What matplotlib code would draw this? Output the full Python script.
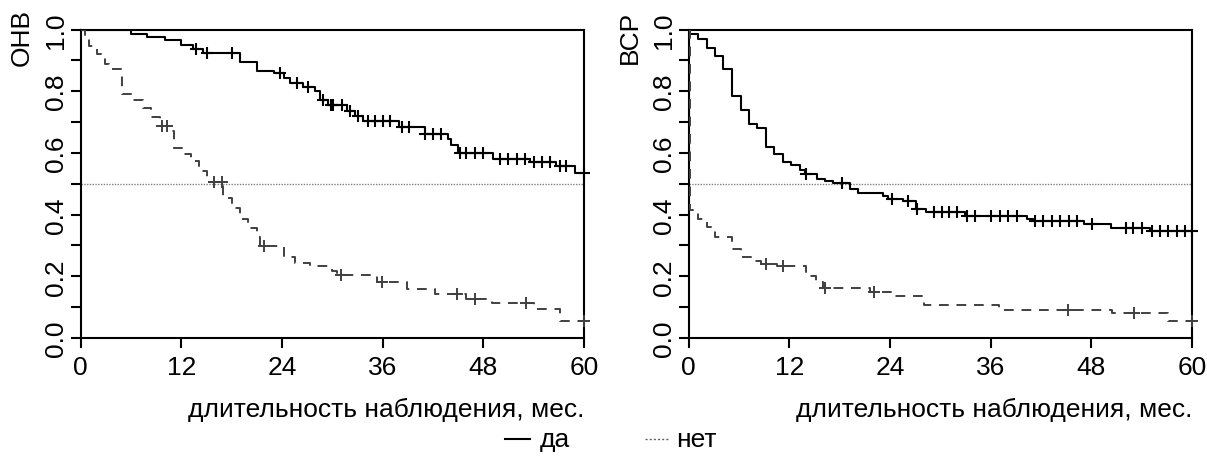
import numpy as np
import matplotlib
matplotlib.use("Agg")
import matplotlib.pyplot as plt

plt.rcParams['font.family'] = ['Liberation Sans', 'DejaVu Sans']

# ---------------- data ----------------
x_ticks = [0, 12, 24, 36, 48, 60]
y_ticks = [0.0, 0.2, 0.4, 0.6, 0.8, 1.0]
y_tick_labels = ["0.0", "0.2", "0.4", "0.6", "0.8", "1.0"]
x_label = "длительность наблюдения, мес."
panel_labels = ["ОНВ", "ВСР"]
legend_labels = ["да", "нет"]

# Panel 1 (ОНВ), group "да"
os_yes_t = [0, 5.96, 7.9, 10.05, 12.0, 13.4, 14.6, 19.0, 21.0, 23.0, 24.2, 25.0, 26.5, 27.9,
            28.5, 29.5, 31.7, 32.7, 33.7, 37.9, 41.0, 43.8, 44.2, 45.0, 49.2, 53.6, 56.7, 58.9]
os_yes_s = [1.0, 0.987, 0.976, 0.965, 0.951, 0.938, 0.925, 0.895, 0.865, 0.858, 0.844, 0.827, 0.812, 0.80,
            0.773, 0.754, 0.735, 0.72, 0.703, 0.683, 0.662, 0.646, 0.625, 0.599, 0.579, 0.569, 0.558, 0.536]
os_yes_c = [13.8, 15.0, 18.1, 23.8, 25.8, 27.1, 28.9, 29.9, 30.1, 31.1, 32.1, 33.1, 34.3, 35.1, 36.1, 36.9,
            38.3, 39.1, 41.05, 42.0, 43.0, 45.2, 46.0, 47.0, 48.0, 50.0, 51.0, 52.0, 53.0, 54.0, 55.0, 56.0,
            57.1, 57.9, 60.0]

# Panel 1 (ОНВ), group "нет"
os_no_t = [0, 0.5, 1.0, 1.9, 2.9, 3.4, 4.9, 6.0, 7.4, 8.4, 9.5, 10.5, 11.1, 12.1, 13.1, 14.1, 15.1,
           17.0, 18.0, 19.0, 20.0, 21.0, 21.4, 24.2, 25.6, 27.3, 30.0, 30.6, 35.3, 38.9, 42.3, 46.0,
           49.0, 54.0, 57.1]
os_no_s = [1.0, 0.97, 0.945, 0.92, 0.887, 0.873, 0.79, 0.771, 0.747, 0.715, 0.687, 0.671, 0.617, 0.595,
           0.574, 0.541, 0.506, 0.455, 0.423, 0.385, 0.358, 0.326, 0.299, 0.264, 0.243, 0.232, 0.218,
           0.205, 0.18, 0.159, 0.142, 0.128, 0.115, 0.094, 0.056]
os_no_c = [9.65, 10.3, 15.9, 16.8, 21.9, 31.0, 35.9, 44.9, 47.0, 53.1, 60.0]

# Panel 2 (ВСР), group "да"
rfs_yes_t = [0, 0.16, 1.15, 2.15, 3.14, 4.13, 5.2, 6.2, 7.2, 8.2, 9.2, 10.2, 11.2, 12.2, 13.3, 13.9,
             15.3, 16.3, 17.2, 19.2, 20.2, 23.2, 23.8, 25.5, 27.1, 28.3, 33.0, 40.3, 41.1, 47.1, 50.3, 55.0]
rfs_yes_s = [1.0, 0.987, 0.968, 0.941, 0.914, 0.873, 0.784, 0.739, 0.693, 0.680, 0.620, 0.595, 0.571,
             0.561, 0.545, 0.531, 0.517, 0.509, 0.502, 0.482, 0.469, 0.461, 0.45, 0.444, 0.417, 0.407,
             0.397, 0.385, 0.380, 0.369, 0.356, 0.347]
rfs_yes_c = [14.0, 18.3, 24.2, 26.2, 27.2, 29.2, 30.2, 31.0, 32.0, 33.2, 34.1, 36.1, 37.1, 38.1, 39.1,
             41.3, 42.3, 43.3, 44.3, 45.3, 46.3, 48.1, 52.2, 53.0, 54.0, 55.2, 56.2, 57.2, 58.2, 59.2, 60.0]

# Panel 2 (ВСР), group "нет"
rfs_no_t = [0, 0.1, 1.15, 2.15, 3.14, 5.2, 6.2, 7.6, 8.6, 10.5, 14.0, 15.2, 16.0, 21.6, 24.1, 28.0,
            37.0, 50.5, 57.1]
rfs_no_s = [1.0, 0.415, 0.385, 0.36, 0.326, 0.288, 0.264, 0.25, 0.239, 0.232, 0.202, 0.18, 0.161,
            0.148, 0.137, 0.108, 0.092, 0.081, 0.055]
rfs_no_c = [9.2, 11.3, 16.2, 22.1, 45.2, 53.1, 60.0]

panels = [
    (os_yes_t, os_yes_s, os_yes_c, os_no_t, os_no_s, os_no_c),
    (rfs_yes_t, rfs_yes_s, rfs_yes_c, rfs_no_t, rfs_no_s, rfs_no_c),
]

# ---------------- figure ----------------
W, H = 1207, 477
fig = plt.figure(figsize=(W / 100, H / 100), dpi=100)

FS = 19
DASH_COL = '#404040'
dash_style = (0, (5, 4))

ax_lefts = [80.7, 688.7]
ax_w = 503.2
ax_top, ax_bot = 30.5, 339.0


def surv_at(t, times, surv):
    idx = np.searchsorted(np.asarray(times), np.asarray(t), side='right') - 1
    return np.asarray(surv)[idx]


for i, (ty, sy, cy, tn, sn, cn) in enumerate(panels):
    left = ax_lefts[i]
    ax = fig.add_axes([left / W, (H - ax_bot) / H, ax_w / W, (ax_bot - ax_top) / H])
    ty_e = list(ty) + [60]
    sy_e = list(sy) + [sy[-1]]
    tn_e = list(tn) + [60]
    sn_e = list(sn) + [sn[-1]]
    ax.step(ty_e, sy_e, where='post', color='black', lw=1.5, zorder=3)
    ax.step(tn_e, sn_e, where='post', color=DASH_COL, lw=1.4, linestyle=dash_style, zorder=3)
    ax.plot(cy, surv_at(cy, ty, sy), linestyle='none', marker='+', ms=9, mew=1.5,
            color='black', zorder=4, clip_on=False)
    ax.plot(cn, surv_at(cn, tn, sn), linestyle='none', marker='+', ms=9, mew=1.4,
            color=DASH_COL, zorder=4, clip_on=False)
    ax.axhline(0.5, color='#808080', lw=1.0, linestyle=(0, (1, 1)), zorder=2)

    ax.set_xlim(0, 60)
    ax.set_ylim(0, 1)
    ax.set_xticks(x_ticks)
    ax.set_xticklabels([str(v) for v in x_ticks], fontsize=FS)
    ax.set_yticks(y_ticks)
    ax.set_yticklabels(y_tick_labels, fontsize=FS, rotation=90, va='center')
    ax.set_yticks(np.arange(0.1, 1.0, 0.2), minor=True)
    ax.tick_params(axis='both', which='both', direction='out', length=7, width=1.5,
                   color='black')
    ax.tick_params(axis='x', pad=5)
    ax.tick_params(axis='y', pad=2)
    for sp in ax.spines.values():
        sp.set_linewidth(1.5)
        sp.set_color('black')

    fig.text((left + ax_w) / W, 1 - 410 / H, x_label, fontsize=FS, ha='right', va='center')
    fig.text((left - 58.5) / W, 1 - 37 / H, panel_labels[i], fontsize=FS, rotation=90,
             ha='center', va='center')

# legend
ly = 1 - 440 / H
fig.add_artist(plt.Line2D([505 / W, 530 / W], [ly, ly], color='black', lw=1.5))
fig.text(540 / W, ly, legend_labels[0], fontsize=FS, ha='left', va='center')
fig.add_artist(plt.Line2D([645 / W, 668 / W], [ly, ly], color='#606060', lw=1.0,
                          linestyle=(0, (1.5, 1.5))))
fig.text(676 / W, ly, legend_labels[1], fontsize=FS, ha='left', va='center')

fig.savefig('out.png', dpi=100)
